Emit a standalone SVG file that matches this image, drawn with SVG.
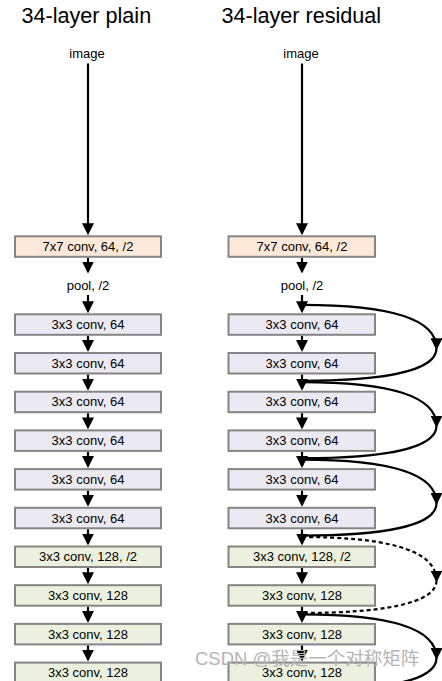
<svg xmlns="http://www.w3.org/2000/svg" width="442" height="681" viewBox="0 0 442 681">
<defs>
<marker id="ah" markerUnits="userSpaceOnUse" markerWidth="12" markerHeight="12" viewBox="0 0 12 12" refX="10" refY="6" orient="auto">
<path d="M0,0 L12,6 L0,12 Z" fill="#000"/>
</marker>
</defs>
<style>
text{font-family:"Liberation Sans","Noto Sans CJK SC",sans-serif;fill:#000}
.title{font-size:21.6px}
.lbl{font-size:13px;text-anchor:middle}
.box{stroke:#858585;stroke-width:2}
.c7{fill:#fce9da}
.c64{fill:#ebe9f2}
.c128{fill:#ebf1de}
.ar{fill:none;stroke:#000;stroke-width:2.2}
.ma{marker-end:url(#ah)}
.dash{stroke-dasharray:4 3}
.wm{font-size:18.5px;fill:#b5b5b5}
</style>
<g id="titles">
<text class="title" x="21.5" y="23">34-layer plain</text>
<text class="title" x="221.5" y="23">34-layer residual</text>
</g>
<g id="connectors">
<g id="plain-arrows">
<path class="ar ma" d="M88,63.5 V233.3"/>
<path class="ar ma" d="M88,257.8 V271.5"/>
<path class="ar ma" d="M88,295 V311.3"/>
<path class="ar ma" d="M88,335.8 V350"/>
<path class="ar ma" d="M88,374.5 V388.7"/>
<path class="ar ma" d="M88,413.2 V427.4"/>
<path class="ar ma" d="M88,451.9 V466.1"/>
<path class="ar ma" d="M88,490.6 V504.8"/>
<path class="ar ma" d="M88,529.3 V543.5"/>
<path class="ar ma" d="M88,568 V582.2"/>
<path class="ar ma" d="M88,606.7 V620.9"/>
<path class="ar ma" d="M88,645.4 V659.6"/>
</g>
<g id="residual-arrows">
<path class="ar ma" d="M302,63.5 V233.3"/>
<path class="ar ma" d="M302,257.8 V271.5"/>
<path class="ar ma" d="M302,295 V311.3"/>
<path class="ar ma" d="M302,335.8 V350"/>
<path class="ar ma" d="M302,374.5 V388.7"/>
<path class="ar ma" d="M302,413.2 V427.4"/>
<path class="ar ma" d="M302,451.9 V466.1"/>
<path class="ar ma" d="M302,490.6 V504.8"/>
<path class="ar ma" d="M302,529.3 V543.5"/>
<path class="ar ma" d="M302,568 V582.2"/>
<path class="ar ma" d="M302,606.7 V620.9"/>
<path class="ar ma" d="M302,645.4 V659.6"/>
</g>
<g id="shortcuts">
<path class="ar ma" d="M302,304.8 C380,304.8 436.5,315.8 436.5,348.3"/>
<path class="ar" d="M436.5,348.3 C436.5,371.8 380,380.8 302,380.8"/>
<path class="ar ma" d="M302,382.2 C380,382.2 436.5,393.2 436.5,425.7"/>
<path class="ar" d="M436.5,425.7 C436.5,449.2 380,458.2 302,458.2"/>
<path class="ar ma" d="M302,459.6 C380,459.6 436.5,470.6 436.5,503.1"/>
<path class="ar" d="M436.5,503.1 C436.5,526.6 380,535.6 302,535.6"/>
<path class="ar ma dash" d="M302,537 C380,537 436.5,548 436.5,580.5"/>
<path class="ar dash" d="M436.5,580.5 C436.5,604 380,613 302,613"/>
<path class="ar ma" d="M302,614.4 C380,614.4 436.5,625.4 436.5,657.9"/>
<path class="ar" d="M436.5,657.9 C436.5,681.4 380,690.4 302,690.4"/>
</g>
</g>
<g id="plain">
<g id="p-image"><text class="lbl" x="87" y="57.5">image</text></g>
<g id="p-conv7"><rect class="box c7" x="15" y="236.3" width="146" height="20.5"/><text class="lbl" x="88" y="251">7x7 conv, 64, /2</text></g>
<g id="p-pool"><text class="lbl" x="88" y="289.5">pool, /2</text></g>
<g id="p-b1"><rect class="box c64" x="15" y="314.3" width="146" height="20.5"/><text class="lbl" x="88" y="329">3x3 conv, 64</text></g>
<g id="p-b2"><rect class="box c64" x="15" y="353" width="146" height="20.5"/><text class="lbl" x="88" y="367.7">3x3 conv, 64</text></g>
<g id="p-b3"><rect class="box c64" x="15" y="391.7" width="146" height="20.5"/><text class="lbl" x="88" y="406.4">3x3 conv, 64</text></g>
<g id="p-b4"><rect class="box c64" x="15" y="430.4" width="146" height="20.5"/><text class="lbl" x="88" y="445.1">3x3 conv, 64</text></g>
<g id="p-b5"><rect class="box c64" x="15" y="469.1" width="146" height="20.5"/><text class="lbl" x="88" y="483.8">3x3 conv, 64</text></g>
<g id="p-b6"><rect class="box c64" x="15" y="507.8" width="146" height="20.5"/><text class="lbl" x="88" y="522.5">3x3 conv, 64</text></g>
<g id="p-b7"><rect class="box c128" x="15" y="546.5" width="146" height="20.5"/><text class="lbl" x="88" y="561.2">3x3 conv, 128, /2</text></g>
<g id="p-b8"><rect class="box c128" x="15" y="585.2" width="146" height="20.5"/><text class="lbl" x="88" y="599.9">3x3 conv, 128</text></g>
<g id="p-b9"><rect class="box c128" x="15" y="623.9" width="146" height="20.5"/><text class="lbl" x="88" y="638.6">3x3 conv, 128</text></g>
<g id="p-b10"><rect class="box c128" x="15" y="662.6" width="146" height="20.5"/><text class="lbl" x="88" y="677.3">3x3 conv, 128</text></g>
</g>
<g id="residual">
<g id="r-image"><text class="lbl" x="301" y="57.5">image</text></g>
<g id="r-conv7"><rect class="box c7" x="228.5" y="236.3" width="146.5" height="20.5"/><text class="lbl" x="302" y="251">7x7 conv, 64, /2</text></g>
<g id="r-pool"><text class="lbl" x="302" y="289.5">pool, /2</text></g>
<g id="r-b1"><rect class="box c64" x="228.5" y="314.3" width="146.5" height="20.5"/><text class="lbl" x="302" y="329">3x3 conv, 64</text></g>
<g id="r-b2"><rect class="box c64" x="228.5" y="353" width="146.5" height="20.5"/><text class="lbl" x="302" y="367.7">3x3 conv, 64</text></g>
<g id="r-b3"><rect class="box c64" x="228.5" y="391.7" width="146.5" height="20.5"/><text class="lbl" x="302" y="406.4">3x3 conv, 64</text></g>
<g id="r-b4"><rect class="box c64" x="228.5" y="430.4" width="146.5" height="20.5"/><text class="lbl" x="302" y="445.1">3x3 conv, 64</text></g>
<g id="r-b5"><rect class="box c64" x="228.5" y="469.1" width="146.5" height="20.5"/><text class="lbl" x="302" y="483.8">3x3 conv, 64</text></g>
<g id="r-b6"><rect class="box c64" x="228.5" y="507.8" width="146.5" height="20.5"/><text class="lbl" x="302" y="522.5">3x3 conv, 64</text></g>
<g id="r-b7"><rect class="box c128" x="228.5" y="546.5" width="146.5" height="20.5"/><text class="lbl" x="302" y="561.2">3x3 conv, 128, /2</text></g>
<g id="r-b8"><rect class="box c128" x="228.5" y="585.2" width="146.5" height="20.5"/><text class="lbl" x="302" y="599.9">3x3 conv, 128</text></g>
<g id="r-b9"><rect class="box c128" x="228.5" y="623.9" width="146.5" height="20.5"/><text class="lbl" x="302" y="638.6">3x3 conv, 128</text></g>
<g id="r-b10"><rect class="box c128" x="228.5" y="662.6" width="146.5" height="20.5"/><text class="lbl" x="302" y="677.3">3x3 conv, 128</text></g>
</g>
<g id="watermark">
<text class="wm" x="195" y="665">CSDN @我是一个对称矩阵</text>
</g>
</svg>
